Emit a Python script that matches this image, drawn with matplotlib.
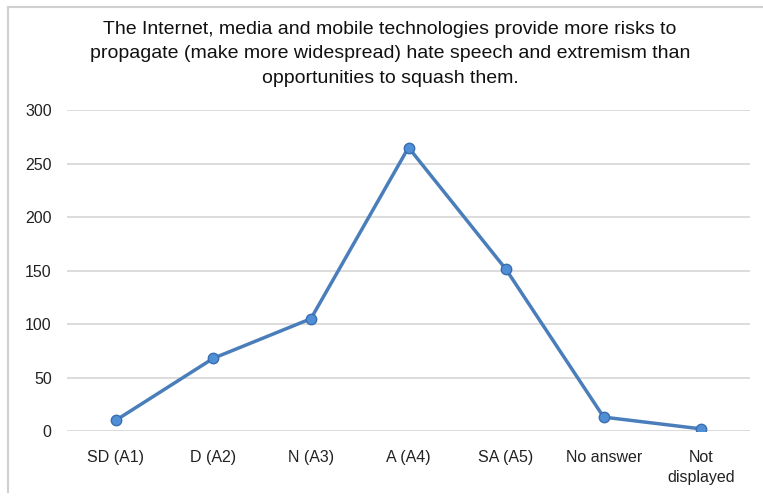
import matplotlib.pyplot as plt
from matplotlib.lines import Line2D

plt.rcParams['font.family'] = ['Liberation Sans', 'DejaVu Sans']

categories = ['SD (A1)', 'D (A2)', 'N (A3)', 'A (A4)', 'SA (A5)', 'No answer', 'Not\ndisplayed']
counts = [10, 68, 105, 265, 151, 13, 2]
y_ticks = [0, 50, 100, 150, 200, 250, 300]
title = ('The Internet, media and mobile technologies provide more risks to\n'
         'propagate (make more widespread) hate speech and extremism than\n'
         'opportunities to squash them.')

fig = plt.figure(figsize=(7.63, 4.98), dpi=100)
ax = fig.add_axes([0.0878, 0.1345, 0.8952, 0.6445])

x = range(len(categories))
ax.plot(x, counts, color='#4a7ebb', linewidth=2.5, marker='o', markersize=7.5,
        markerfacecolor='#4f8fd6', markeredgecolor='#3a6db0', markeredgewidth=1.0,
        zorder=3)

ax.set_xlim(-0.5, len(categories) - 0.5)
ax.set_ylim(0, 300)
ax.set_yticks(y_ticks)
ax.set_xticks(list(x))
ax.set_xticklabels(categories, fontsize=11.5, linespacing=1.4)
ax.tick_params(axis='both', length=0, labelsize=11.5, colors='#222222')
ax.tick_params(axis='y', pad=11)
ax.tick_params(axis='x', pad=14)
ax.grid(axis='y', color='#d9d9d9', linewidth=1.3)
ax.set_axisbelow(True)
for s in ax.spines.values():
    s.set_visible(False)

fig.text(0.511, 0.958, title, ha='center', va='top', fontsize=14,
         linespacing=1.58, color='#111111')

# outer chart border (only left and top edges show in the reference)
fig.add_artist(Line2D([0.0105, 0.0105], [0.012, 0.986], transform=fig.transFigure,
                      color='#d0d0d0', linewidth=1.5))
fig.add_artist(Line2D([0.0105, 1.0], [0.986, 0.986], transform=fig.transFigure,
                      color='#d0d0d0', linewidth=1.5))

fig.savefig('out.png', dpi=100)
